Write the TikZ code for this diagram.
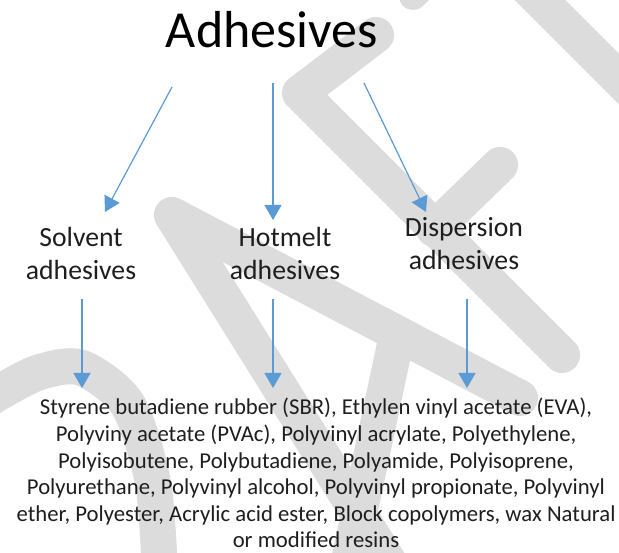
\documentclass[tikz,border=0pt]{standalone}
\usepackage{fontspec}
\setmainfont{Carlito}
\usetikzlibrary{arrows.meta}
\definecolor{wm}{RGB}{220,220,220}
\definecolor{arrblue}{RGB}{91,155,213}
\definecolor{txt}{RGB}{30,30,30}
\begin{document}
\begin{tikzpicture}[x=1pt,y=-1pt,
  wmstroke/.style={draw=wm,line width=36pt,line cap=round,line join=round},
  arr/.style={draw=arrblue,line width=1.2pt,-{Triangle[length=15pt,width=17pt]}},
  lab/.style={anchor=base,inner sep=0pt,text=txt,font=\fontsize{27.7}{33}\selectfont}]
\useasboundingbox[fill=white] (0,0) rectangle (619,553);
% watermark
\begin{scope}
\clip (0,0) rectangle (619,553);
\draw[wmstroke] plot[smooth] coordinates {(-20,405) (0,392) (40,372) (82,368) (128,405) (153,483) (160,575)};
\draw[wmstroke] (400,580) -- (172,215) -- (520,398);
\draw[wmstroke] (396,340) -- (345,580);
\draw[wmstroke] (376,35) -- (300,93) -- (562,355);
\draw[wmstroke] (434,229) -- (500,165);
\draw[wmstroke] (500,-40) -- (680,140);
\draw[wmstroke,line width=28pt] (413,-4) -- (460,-50);
\end{scope}
% texts
\node[anchor=base,inner sep=0pt,font=\fontsize{52}{62}\selectfont] (title) at (272,48) {Adhesives};
\node[lab] (solvent) at (81,247) {\begin{tabular}[t]{@{}c@{}}Solvent\\adhesives\end{tabular}};
\node[lab] (hotmelt) at (285,247) {\begin{tabular}[t]{@{}c@{}}Hotmelt\\adhesives\end{tabular}};
\node[lab] (dispersion) at (464,237) {\begin{tabular}[t]{@{}c@{}}Dispersion\\adhesives\end{tabular}};
\node[anchor=base,inner sep=0pt,text=txt,font=\fontsize{22.7}{26.6}\selectfont] (polymers) at (316,415)
 {\begin{tabular}[t]{@{}c@{}}Styrene butadiene rubber (SBR), Ethylen vinyl acetate (EVA),\\
 Polyviny acetate (PVAc), Polyvinyl acrylate, Polyethylene,\\
 Polyisobutene, Polybutadiene, Polyamide, Polyisoprene,\\
 Polyurethane, Polyvinyl alcohol, Polyvinyl propionate, Polyvinyl\\
 ether, Polyester, Acrylic acid ester, Block copolymers, wax Natural\\
 or modified resins\end{tabular}};
% arrow ends
\coordinate (t1) at (172,87);
\coordinate (t2) at (273,83);
\coordinate (t3) at (364,83);
\coordinate (s1) at (105,212);
\coordinate (h1) at (273,220);
\coordinate (d1) at (426,212);
\coordinate (s2) at (82,299);
\coordinate (h2) at (273,299);
\coordinate (d2) at (467,299);
\coordinate (p1) at (82,388);
\coordinate (p2) at (273,388);
\coordinate (p3) at (467,388);
\draw[arr] (t1) -- (s1);
\draw[arr] (t2) -- (h1);
\draw[arr] (t3) -- (d1);
\draw[arr] (s2) -- (p1);
\draw[arr] (h2) -- (p2);
\draw[arr] (d2) -- (p3);
\end{tikzpicture}
\end{document}
